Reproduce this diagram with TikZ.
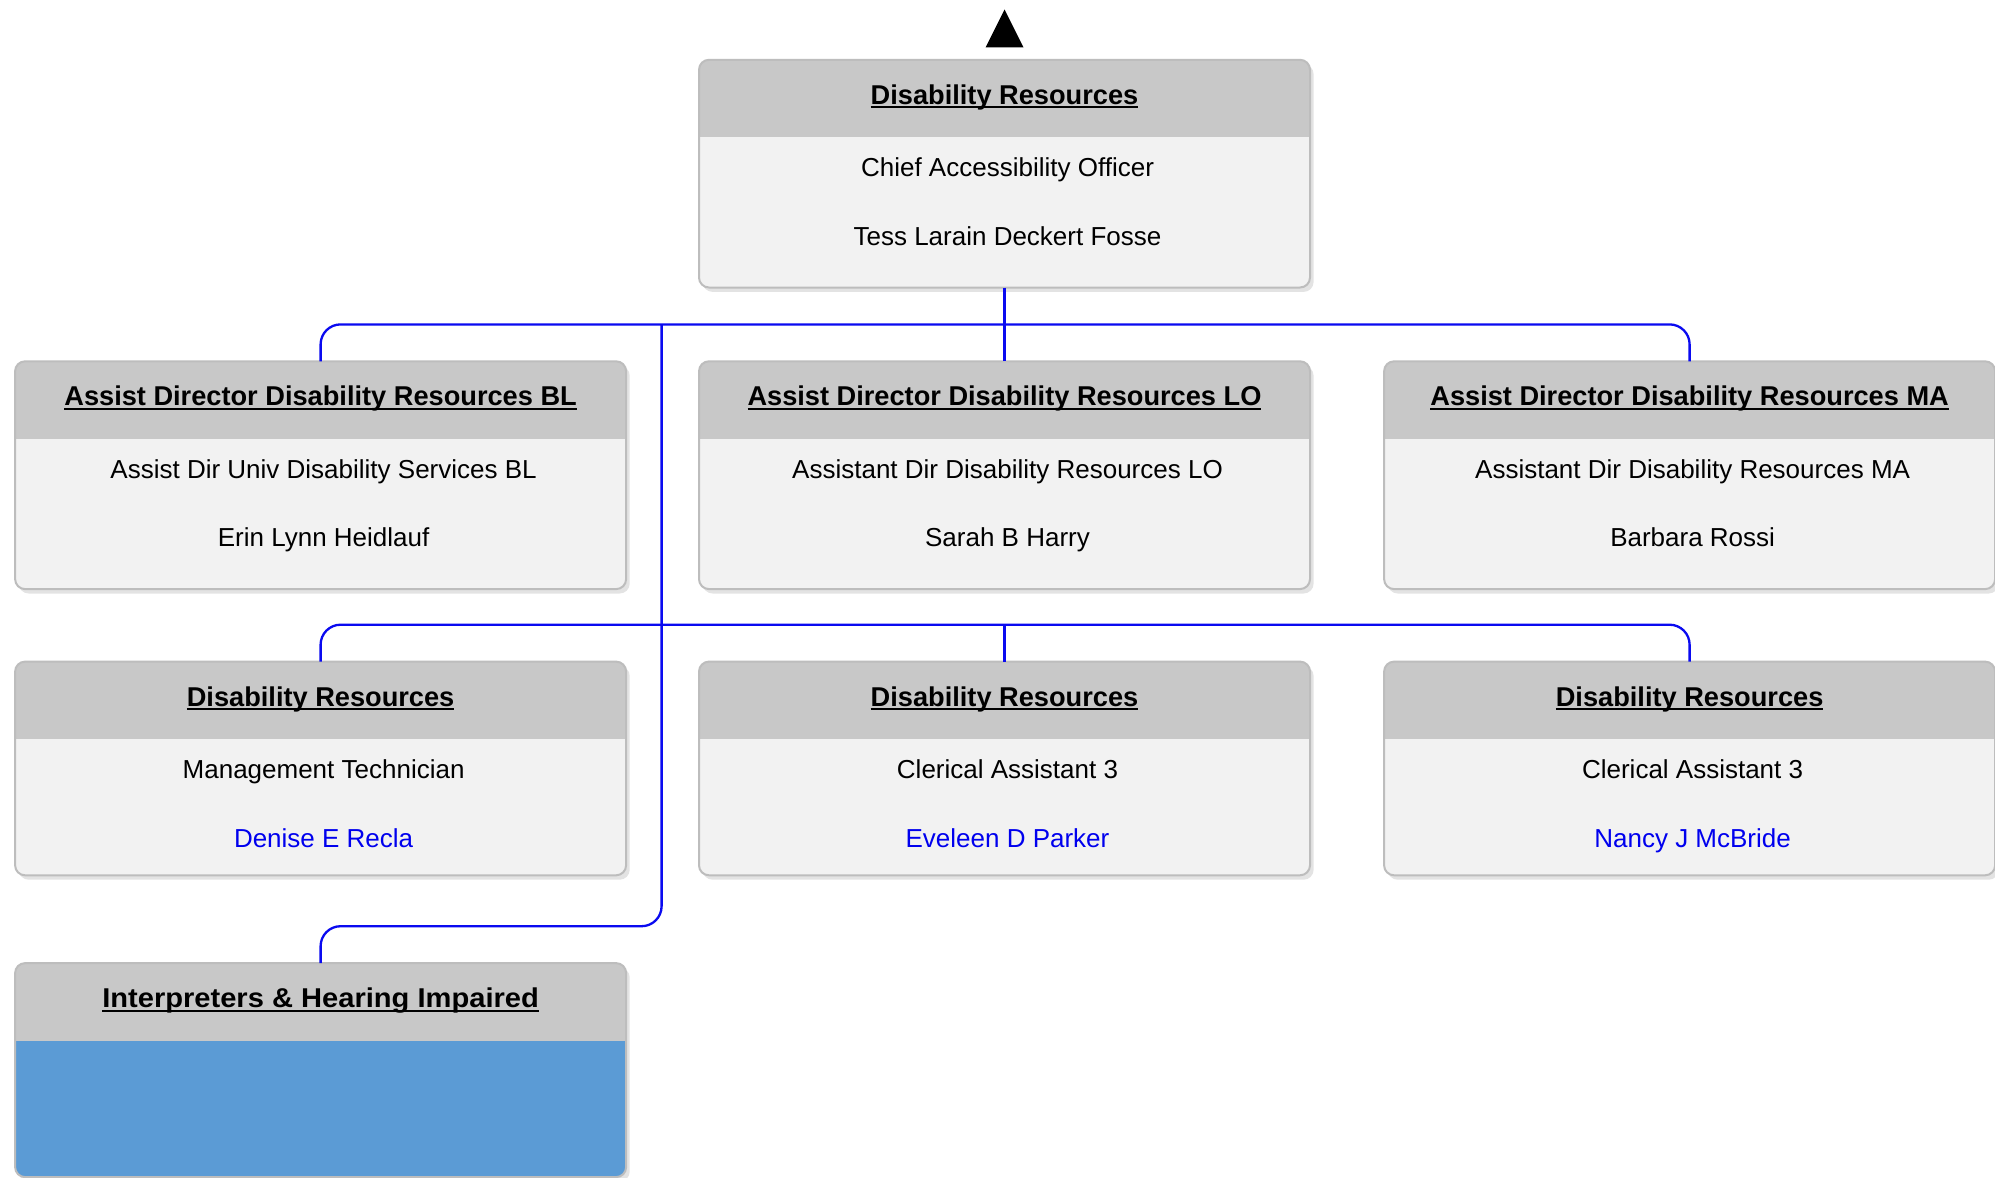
\documentclass[tikz,border=0pt]{standalone}
\usepackage{fontspec}
\setmainfont{Liberation Sans}
\usetikzlibrary{shadows}
\definecolor{headgray}{HTML}{C8C8C8}
\definecolor{bodygray}{HTML}{F2F2F2}
\definecolor{bordergray}{HTML}{BDBDBD}
\definecolor{connblue}{HTML}{0A0AF0}
\definecolor{fillblue}{HTML}{5B9BD5}
\definecolor{nameblue}{HTML}{0000EE}
\newcommand\myul[1]{\setbox0\hbox{#1}\rlap{\copy0}\rule[-2pt]{\wd0}{1pt}}
\tikzset{
  boxshape/.style={rectangle, rounded corners=5pt, minimum width=305.5pt, inner sep=0pt, outer sep=0pt,
    drop shadow={shadow xshift=1.8pt, shadow yshift=-2.2pt, opacity=0.22}},
  boxline/.style={draw=bordergray, line width=1pt, rounded corners=5pt},
  titletext/.style={anchor=base, inner sep=0pt, font=\fontsize{13.6pt}{16pt}\selectfont\bfseries},
  bodytext/.style={anchor=base, inner sep=0pt, font=\fontsize{13pt}{15.6pt}\selectfont},
  conn/.style={draw=connblue, line width=1.15pt},
}
\newcommand\orgbox[5]{%
  \node[boxshape, minimum height=#4*0.5pt, fill=#5] (#1) at (#2, #3+#4/2) {};
  \begin{scope}
    \clip[rounded corners=5pt] (#1.north west) rectangle (#1.south east);
    \fill[headgray] (#1.north west) rectangle ([yshift=-38.8pt]#1.north east);
  \end{scope}
  \draw[boxline] (#1.north west) rectangle (#1.south east);
}
\newcommand\orgtext[5]{%
  \node[titletext] (#1-t) at ([yshift=-22.2pt]#1.north) {\myul{#2}};
  \node[bodytext] (#1-a) at ([xshift=1.5pt,yshift=-58.4pt]#1.north) {#3};
  \node[bodytext, text=#5] (#1-b) at ([xshift=1.5pt,yshift=-92.7pt]#1.north) {#4};
}
\begin{document}
\begin{tikzpicture}[x=0.5pt, y=-0.5pt]
\useasboundingbox (0,0) rectangle (1995,1177);
\fill[white] (0,0) rectangle (1995,1177);

% arrow at top
\fill[black] (1004.5,9.5) -- (1023.5,47.5) -- (985.5,47.5) -- cycle;

% boxes
\orgbox{top}{1004.5}{59.8}{227.7}{bodygray}
\orgtext{top}{Disability Resources}{Chief Accessibility Officer}{Tess Larain Deckert Fosse}{black}

\orgbox{bl}{320.6}{361.3}{227.8}{bodygray}
\orgtext{bl}{Assist Director Disability Resources BL}{Assist Dir Univ Disability Services BL}{Erin Lynn Heidlauf}{black}
\orgbox{lo}{1004.5}{361.3}{227.8}{bodygray}
\orgtext{lo}{Assist Director Disability Resources LO}{Assistant Dir Disability Resources LO}{Sarah B Harry}{black}
\orgbox{ma}{1689.6}{361.3}{227.8}{bodygray}
\orgtext{ma}{Assist Director Disability Resources MA}{Assistant Dir Disability Resources MA}{Barbara Rossi}{black}

\orgbox{dr1}{320.6}{661.6}{213.7}{bodygray}
\orgtext{dr1}{Disability Resources}{Management Technician}{Denise E Recla}{nameblue}
\orgbox{dr2}{1004.5}{661.6}{213.7}{bodygray}
\orgtext{dr2}{Disability Resources}{Clerical Assistant 3}{Eveleen D Parker}{nameblue}
\orgbox{dr3}{1689.6}{661.6}{213.7}{bodygray}
\orgtext{dr3}{Disability Resources}{Clerical Assistant 3}{Nancy J McBride}{nameblue}

\orgbox{interp}{320.6}{963.1}{214}{fillblue}
\node[titletext] (interp-t) at ([yshift=-22.2pt]interp.north) {\scalebox{1.07}[1]{\myul{Interpreters \& Hearing Impaired}}};

% connectors
\coordinate (bus1) at (1004.5,324.4);
\coordinate (bus2) at (1004.5,624.7);
\coordinate (trunk0) at (661.6,324.4);
\coordinate (trunk1) at (661.6,926.2);
\draw[conn] (top.south) -- (lo.north);
\draw[conn, rounded corners=10pt] (bl.north) |- (bus1) -| (ma.north);
\draw[conn, rounded corners=10pt] (dr1.north) |- (bus2) -| (dr3.north);
\draw[conn] (bus2) -- (dr2.north);
\draw[conn, rounded corners=10pt] (trunk0) -- (trunk1) -| (interp.north);
\end{tikzpicture}
\end{document}
